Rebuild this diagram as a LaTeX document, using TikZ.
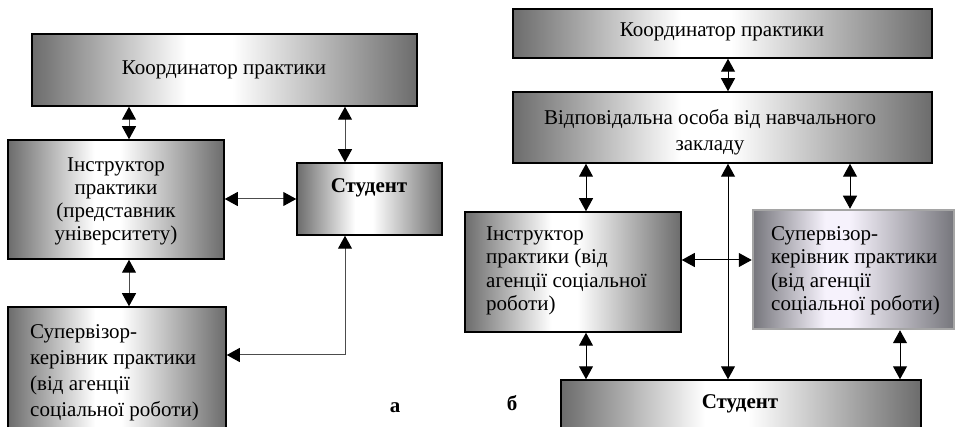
\documentclass[tikz,border=0pt]{standalone}
\usepackage{fontspec}
\setmainfont{Liberation Serif}
\usetikzlibrary{arrows.meta,fit}
\definecolor{boxdark}{RGB}{108,108,108}
\definecolor{supdark}{RGB}{118,118,124}
\definecolor{suplight}{RGB}{246,242,252}
\definecolor{supborder}{RGB}{165,165,165}
\pgfdeclarehorizontalshading{boxshade}{100bp}{color(0bp)=(boxdark); color(25bp)=(boxdark); color(45bp)=(white); color(51bp)=(white); color(75bp)=(boxdark); color(100bp)=(boxdark)}
\pgfdeclarehorizontalshading{supshade}{100bp}{color(0bp)=(supdark); color(25bp)=(supdark); color(43bp)=(suplight); color(49bp)=(suplight); color(75bp)=(supdark); color(100bp)=(supdark)}
\begin{document}
\begin{tikzpicture}[x=1pt,y=-1pt,
  font=\fontsize{21}{26}\selectfont,
  box/.style={draw=black, line width=1.5pt, shading=boxshade, inner sep=0pt},
  supbox/.style={draw=supborder, line width=2.5pt, shading=supshade, inner sep=0pt},
  txt/.style={inner sep=0pt},
  conn/.style={draw=black!70, line width=1pt, {Triangle[length=13pt,width=14pt,color=black]}-{Triangle[length=13pt,width=14pt,color=black]}}
]
\useasboundingbox (0,0) rectangle (958,427);
\clip (0,0) rectangle (958,427);
% ---------- left diagram (a) ----------
\node[box, fit={(32,34) (417,106)}] (lc) {};
\node[box, fit={(8,140) (224,259)}] (li) {};
\node[box, fit={(297,163) (442,235)}] (ls) {};
\node[box, fit={(8,307) (226,445)}] (lsup) {};
\node[txt] (lct) at (224,70) {Координатор практики};
\node[txt, align=center, font=\fontsize{21}{23}\selectfont] (lit) at (116,201) {Інструктор\\практики\\(представник\\університету)};
\node[txt, font=\fontsize{21}{26}\selectfont\bfseries] (lst) at (369,188) {Студент};
\node[txt, anchor=west, align=left] (lsupt) at (30,373) {Супервізор-\\керівник практики\\(від агенції\\соціальної роботи)};
\node[txt, font=\fontsize{21}{26}\selectfont\bfseries] (la) at (395,408) {а};
\coordinate (xa1) at (129,0);
\coordinate (xa2) at (345,0);
\coordinate (lcorner) at (345,355);
\draw[conn] (lc.south -| xa1) -- (li.north -| xa1);
\draw[conn] (lc.south -| xa2) -- (ls.north -| xa2);
\draw[conn] (li.east |- ls.center) -- (ls.west);
\draw[conn] (li.south -| xa1) -- (lsup.north -| xa1);
\draw[conn] (ls.south -| lcorner) -- (lcorner) -- (lsup.east |- lcorner);
% ---------- right diagram (b) ----------
\node[box, fit={(513,9) (932,58)}] (rc) {};
\node[box, fit={(513,92) (932,163)}] (rr) {};
\node[box, fit={(465,212) (681,332)}] (ri) {};
\node[supbox, fit={(753,210) (954,329)}] (rsup) {};
\node[box, fit={(561,380) (921,445)}] (rs) {};
\node[txt] (rct) at (722,32) {Координатор практики};
\node[txt, align=center] (rrt) at (710,132) {Відповідальна особа від навчального\\закладу};
\node[txt, anchor=west, align=left, font=\fontsize{21}{23.5}\selectfont] (rit) at (486,271) {Інструктор\\практики (від\\агенції соціальної\\роботи)};
\node[txt, anchor=west, align=left, font=\fontsize{21}{23.5}\selectfont] (rsupt) at (771,271) {Супервізор-\\керівник практики\\(від агенції\\соціальної роботи)};
\node[txt, font=\fontsize{21}{26}\selectfont\bfseries] (rst) at (740,404) {Студент};
\node[txt, font=\fontsize{21}{26}\selectfont\bfseries] (lb) at (512,403) {б};
\coordinate (xb1) at (586,0);
\coordinate (xb2) at (728,0);
\coordinate (xb3) at (850,0);
\coordinate (xb4) at (900,0);
\coordinate (yb) at (0,260);
\draw[conn, draw=black] (rc.south -| xb2) -- (rr.north -| xb2);
\draw[conn, draw=black] (rr.south -| xb1) -- (ri.north -| xb1);
\draw[conn, draw=black] (rr.south -| xb3) -- (rsup.north -| xb3);
\draw[conn, draw=black] (rr.south -| xb2) -- (rs.north -| xb2);
\draw[conn, draw=black] (ri.east |- yb) -- (rsup.west |- yb);
\draw[conn, draw=black] (ri.south -| xb1) -- (rs.north -| xb1);
\draw[conn, draw=black] (rsup.south -| xb4) -- (rs.north -| xb4);
\end{tikzpicture}
\end{document}
